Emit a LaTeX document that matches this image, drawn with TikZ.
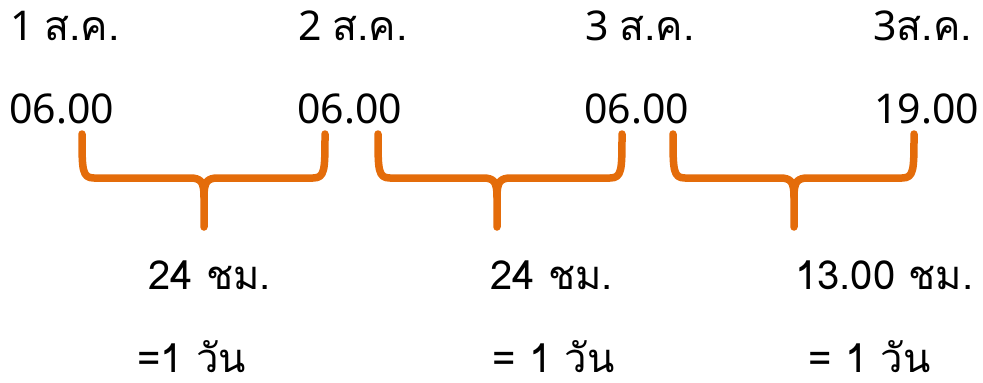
\documentclass[tikz,border=0pt]{standalone}
\usepackage{fontspec}
\newfontfamily\thaifont[Script=Thai]{Loma}
\newfontfamily\numfont{Noto Sans}
\definecolor{braceorange}{RGB}{228,108,10}
\begin{document}
\begin{tikzpicture}[x=1pt,y=-1pt,
  lbl/.style={anchor=base west,inner sep=0pt,text depth=0pt,font=\thaifont\fontsize{40}{44}\selectfont},
  toplbl/.style={anchor=base west,inner sep=0pt,font=\fontsize{41}{44}\selectfont},
  bracepath/.style={draw=braceorange,line width=7.5pt,line cap=round,line join=round}]
\useasboundingbox (0,0) rectangle (983,383);
% dates
\node[toplbl] (d1) at (10,40) {\numfont 1 \thaifont ส.ค.};
\node[toplbl] (d2) at (298,40) {\numfont 2 \thaifont ส.ค.};
\node[toplbl] (d3) at (585,40) {\numfont 3 \thaifont ส.ค.};
\node[toplbl] (d4) at (873,40) {\numfont 3\thaifont ส.ค.};
% times
\node[toplbl] (t1) at (9,123) {\numfont 06.00};
\node[toplbl] (t2) at (297,123) {\numfont 06.00};
\node[toplbl] (t3) at (584,123) {\numfont 06.00};
\node[toplbl] (t4) at (874,123) {\numfont 19.00};
% durations
\node[lbl] (h1) at (148,289) {24 ชม.};
\node[lbl] (h2) at (490,289) {24 ชม.};
\node[lbl] (h3) at (795,289) {13.00 ชม.};
\node[lbl] (e1) at (137,372) {=1 วัน};
\node[lbl] (e2) at (492,372) {= 1 วัน};
\node[lbl] (e3) at (808,372) {= 1 วัน};
% braces under each interval
\foreach \l/\m/\r in {82/204/325, 378/497/622, 673/794/914}{
  \draw[bracepath] (\l,134) .. controls (\l,170) and (\l,178) .. (\l+12,178)
    -- (\m-14,178) .. controls (\m-3,178) and (\m,182) .. (\m,197) -- (\m,227);
  \draw[bracepath] (\r,134) .. controls (\r,170) and (\r,178) .. (\r-12,178)
    -- (\m+14,178) .. controls (\m+3,178) and (\m,182) .. (\m,197);
}
\end{tikzpicture}
\end{document}
